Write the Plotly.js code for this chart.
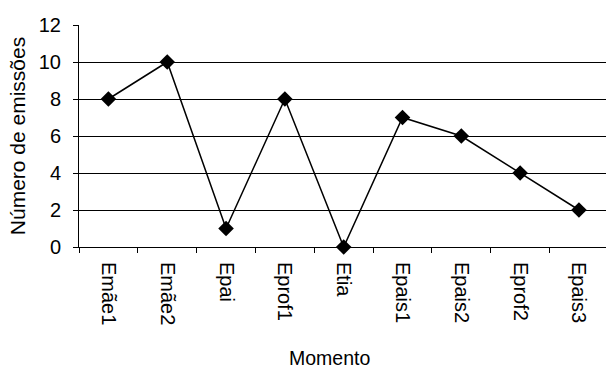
<!DOCTYPE html>
<html><head><meta charset="utf-8">
<script src="https://cdn.plot.ly/plotly-3.0.1.min.js"></script>
<style>html,body{margin:0;padding:0;background:#fff}</style>
</head><body>
<div id="chart" style="width:606px;height:370px"></div>
<script>
var categories = ["Emãe1","Emãe2","Epai","Eprof1","Etia","Epais1","Epais2","Eprof2","Epais3"];
var values = [8,10,1,8,0,7,6,4,2];
var yTicks = [0,2,4,6,8,10,12];

var trace = {
  x: categories, y: values, type: "scatter", mode: "lines+markers",
  line: {color: "#000", width: 1.5},
  marker: {symbol: "diamond", size: 12, color: "#000"},
  cliponaxis: false
};
var layout = {
  width: 606, height: 370,
  margin: {l: 79, r: 0, t: 25, b: 123},
  paper_bgcolor: "#fff", plot_bgcolor: "#fff",
  font: {family: "Liberation Sans, Arial, sans-serif", size: 20, color: "#000"},
  showlegend: false,
  xaxis: {
    type: "category", range: [-0.5, 8.46], tickangle: 90,
    ticks: "outside", tickson: "boundaries", ticklen: 5, tickcolor: "#000",
    showline: true, linecolor: "#000", linewidth: 1, showgrid: false,
    tickfont: {size: 20}, ticklabelstandoff: 10, fixedrange: true
  },
  yaxis: {
    range: [0, 12], tickvals: yTicks, ticktext: yTicks.map(String),
    ticks: "outside", ticklen: 5, tickcolor: "#000",
    showline: true, linecolor: "#000", linewidth: 1,
    showgrid: true, gridcolor: "#000", gridwidth: 1, zeroline: false,
    tickfont: {size: 20}, ticklabelstandoff: 8,
    title: {text: "Número de emissões", font: {size: 21}, standoff: 7}
  },
  annotations: [{
    text: "Momento", xref: "paper", yref: "paper", x: 0.475, y: -0.5,
    showarrow: false, font: {size: 19.5}, xanchor: "center", yanchor: "middle"
  }]
};
Plotly.newPlot("chart", [trace], layout, {displayModeBar: false, staticPlot: true});
</script>
</body></html>
